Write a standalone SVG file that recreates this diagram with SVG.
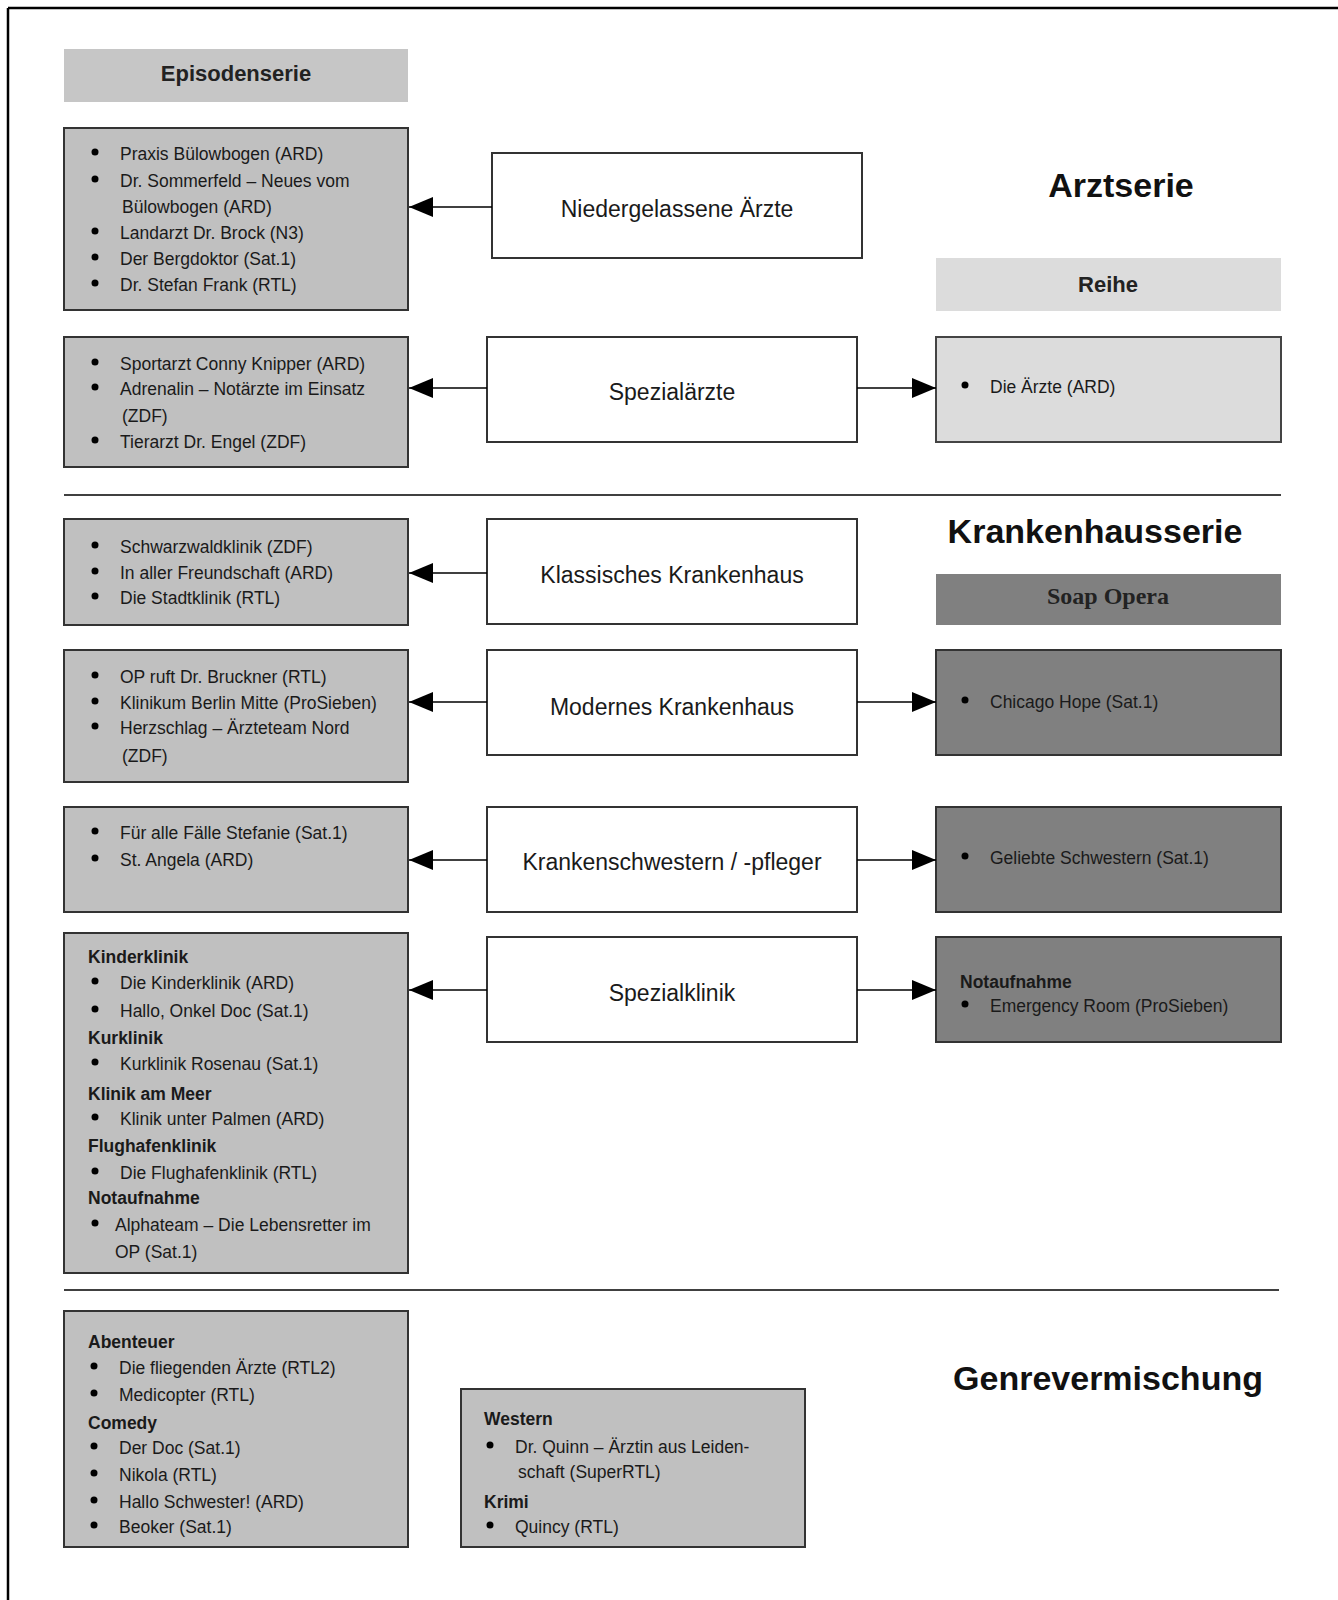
<svg xmlns="http://www.w3.org/2000/svg" width="1338" height="1600" viewBox="0 0 1338 1600">
<defs>
<marker id="ah" markerUnits="userSpaceOnUse" markerWidth="24" markerHeight="20" refX="24" refY="10" orient="auto">
<path d="M0,0 L24,10 L0,20 z" fill="#000"/>
</marker>
<style>
.lbox{fill:#c0c0c0;stroke:#333;stroke-width:2}
.hdr{fill:#c6c6c6}
.cbox{fill:#fff;stroke:#333;stroke-width:2}
.rlight{fill:#dcdcdc;stroke:#444;stroke-width:2}
.rdark{fill:#808080;stroke:#333;stroke-width:2}
.t{font-family:"Liberation Sans",Arial,sans-serif;font-size:17.5px;fill:#1a1a1a}
.tb{font-family:"Liberation Sans",Arial,sans-serif;font-size:17.5px;font-weight:bold;fill:#1a1a1a}
.c{font-family:"Liberation Sans",Arial,sans-serif;font-size:23px;fill:#1a1a1a;text-anchor:middle}
.h{font-family:"Liberation Sans",Arial,sans-serif;font-size:22px;font-weight:bold;fill:#222;text-anchor:middle}
.big{font-family:"Liberation Sans",Arial,sans-serif;font-size:34px;font-weight:bold;fill:#111;text-anchor:middle}
.soap{font-family:"Liberation Serif","Times New Roman",serif;font-size:24px;font-weight:bold;fill:#222;text-anchor:middle}
.b{fill:#000}
.conn{stroke:#000;stroke-width:1.6;fill:none;marker-end:url(#ah)}
.sep{stroke:#000;stroke-width:1.6}
</style>
</defs>
<rect x="0" y="0" width="1338" height="1600" fill="#fff"/>
<g id="border">
<line x1="8" y1="8" x2="1338" y2="8" stroke="#000" stroke-width="2.5"/>
<line x1="8" y1="8" x2="8" y2="1600" stroke="#000" stroke-width="2.5"/>
</g>

<g id="titles">
<text class="big" x="1121" y="197">Arztserie</text>
<text class="big" x="1095" y="543">Krankenhausserie</text>
<text class="big" x="1108" y="1390">Genrevermischung</text>
</g>

<g id="separators">
<line class="sep" x1="64" y1="495" x2="1281" y2="495"/>
<line class="sep" x1="64" y1="1290" x2="1279" y2="1290"/>
</g>

<g id="episodenserie-header">
<rect class="hdr" x="64" y="49" width="344" height="53"/>
<text class="h" x="236" y="81">Episodenserie</text>
</g>

<g id="reihe-header">
<rect x="936" y="258" width="345" height="53" fill="#dcdcdc"/>
<text class="h" x="1108" y="292">Reihe</text>
</g>

<g id="soap-header">
<rect x="936" y="574" width="345" height="51" fill="#808080"/>
<text class="soap" x="1108" y="604">Soap Opera</text>
</g>

<g id="list-niedergelassen">
<rect class="lbox" x="64" y="128" width="344" height="182"/>
<circle class="b" cx="95" cy="152" r="3.5"/><text class="t" x="120" y="160">Praxis Bülowbogen (ARD)</text>
<circle class="b" cx="95" cy="179" r="3.5"/><text class="t" x="120" y="187">Dr. Sommerfeld – Neues vom</text>
<text class="t" x="122" y="213">Bülowbogen (ARD)</text>
<circle class="b" cx="95" cy="231" r="3.5"/><text class="t" x="120" y="239">Landarzt Dr. Brock (N3)</text>
<circle class="b" cx="95" cy="257" r="3.5"/><text class="t" x="120" y="265">Der Bergdoktor (Sat.1)</text>
<circle class="b" cx="95" cy="283" r="3.5"/><text class="t" x="120" y="291">Dr. Stefan Frank (RTL)</text>
</g>

<g id="list-spezialaerzte">
<rect class="lbox" x="64" y="337" width="344" height="130"/>
<circle class="b" cx="95" cy="362" r="3.5"/><text class="t" x="120" y="370">Sportarzt Conny Knipper (ARD)</text>
<circle class="b" cx="95" cy="387" r="3.5"/><text class="t" x="120" y="395">Adrenalin – Notärzte im Einsatz</text>
<text class="t" x="122" y="422">(ZDF)</text>
<circle class="b" cx="95" cy="440" r="3.5"/><text class="t" x="120" y="448">Tierarzt Dr. Engel (ZDF)</text>
</g>

<g id="node-niedergelassene">
<rect class="cbox" x="492" y="153" width="370" height="105"/>
<text class="c" x="677" y="217">Niedergelassene Ärzte</text>
</g>

<g id="node-spezialaerzte">
<rect class="cbox" x="487" y="337" width="370" height="105"/>
<text class="c" x="672" y="400">Spezialärzte</text>
</g>

<g id="reihe-list">
<rect class="rlight" x="936" y="337" width="345" height="105"/>
<circle class="b" cx="965" cy="385" r="3.5"/><text class="t" x="990" y="393">Die Ärzte (ARD)</text>
</g>

<g id="list-klassisch">
<rect class="lbox" x="64" y="519" width="344" height="106"/>
<circle class="b" cx="95" cy="545" r="3.5"/><text class="t" x="120" y="553">Schwarzwaldklinik (ZDF)</text>
<circle class="b" cx="95" cy="571" r="3.5"/><text class="t" x="120" y="579">In aller Freundschaft (ARD)</text>
<circle class="b" cx="95" cy="596" r="3.5"/><text class="t" x="120" y="604">Die Stadtklinik (RTL)</text>
</g>

<g id="node-klassisch">
<rect class="cbox" x="487" y="519" width="370" height="105"/>
<text class="c" x="672" y="583">Klassisches Krankenhaus</text>
</g>

<g id="list-modern">
<rect class="lbox" x="64" y="650" width="344" height="132"/>
<circle class="b" cx="95" cy="675" r="3.5"/><text class="t" x="120" y="683">OP ruft Dr. Bruckner (RTL)</text>
<circle class="b" cx="95" cy="701" r="3.5"/><text class="t" x="120" y="709">Klinikum Berlin Mitte (ProSieben)</text>
<circle class="b" cx="95" cy="726" r="3.5"/><text class="t" x="120" y="734">Herzschlag – Ärzteteam Nord</text>
<text class="t" x="122" y="762">(ZDF)</text>
</g>

<g id="node-modern">
<rect class="cbox" x="487" y="650" width="370" height="105"/>
<text class="c" x="672" y="715">Modernes Krankenhaus</text>
</g>

<g id="soap-modern">
<rect class="rdark" x="936" y="650" width="345" height="105"/>
<circle class="b" cx="965" cy="700" r="3.5"/><text class="t" x="990" y="708">Chicago Hope (Sat.1)</text>
</g>

<g id="list-schwestern">
<rect class="lbox" x="64" y="807" width="344" height="105"/>
<circle class="b" cx="95" cy="831" r="3.5"/><text class="t" x="120" y="839">Für alle Fälle Stefanie (Sat.1)</text>
<circle class="b" cx="95" cy="858" r="3.5"/><text class="t" x="120" y="866">St. Angela (ARD)</text>
</g>

<g id="node-schwestern">
<rect class="cbox" x="487" y="807" width="370" height="105"/>
<text class="c" x="672" y="870">Krankenschwestern / -pfleger</text>
</g>

<g id="soap-schwestern">
<rect class="rdark" x="936" y="807" width="345" height="105"/>
<circle class="b" cx="965" cy="856" r="3.5"/><text class="t" x="990" y="864">Geliebte Schwestern (Sat.1)</text>
</g>

<g id="list-spezialklinik">
<rect class="lbox" x="64" y="933" width="344" height="340"/>
<text class="tb" x="88" y="963">Kinderklinik</text>
<circle class="b" cx="95" cy="981" r="3.5"/><text class="t" x="120" y="989">Die Kinderklinik (ARD)</text>
<circle class="b" cx="95" cy="1009" r="3.5"/><text class="t" x="120" y="1017">Hallo, Onkel Doc (Sat.1)</text>
<text class="tb" x="88" y="1044">Kurklinik</text>
<circle class="b" cx="95" cy="1062" r="3.5"/><text class="t" x="120" y="1070">Kurklinik Rosenau (Sat.1)</text>
<text class="tb" x="88" y="1100">Klinik am Meer</text>
<circle class="b" cx="95" cy="1117" r="3.5"/><text class="t" x="120" y="1125">Klinik unter Palmen (ARD)</text>
<text class="tb" x="88" y="1152">Flughafenklinik</text>
<circle class="b" cx="95" cy="1171" r="3.5"/><text class="t" x="120" y="1179">Die Flughafenklinik (RTL)</text>
<text class="tb" x="88" y="1204">Notaufnahme</text>
<circle class="b" cx="95" cy="1223" r="3.5"/><text class="t" x="115" y="1231">Alphateam – Die Lebensretter im</text>
<text class="t" x="115" y="1258">OP (Sat.1)</text>
</g>

<g id="node-spezialklinik">
<rect class="cbox" x="487" y="937" width="370" height="105"/>
<text class="c" x="672" y="1001">Spezialklinik</text>
</g>

<g id="soap-spezialklinik">
<rect class="rdark" x="936" y="937" width="345" height="105"/>
<text class="tb" x="960" y="988">Notaufnahme</text>
<circle class="b" cx="965" cy="1004" r="3.5"/><text class="t" x="990" y="1012">Emergency Room (ProSieben)</text>
</g>

<g id="genre-left">
<rect class="lbox" x="64" y="1311" width="344" height="236"/>
<text class="tb" x="88" y="1348">Abenteuer</text>
<circle class="b" cx="94" cy="1366" r="3.5"/><text class="t" x="119" y="1374">Die fliegenden Ärzte (RTL2)</text>
<circle class="b" cx="94" cy="1393" r="3.5"/><text class="t" x="119" y="1401">Medicopter (RTL)</text>
<text class="tb" x="88" y="1429">Comedy</text>
<circle class="b" cx="94" cy="1446" r="3.5"/><text class="t" x="119" y="1454">Der Doc (Sat.1)</text>
<circle class="b" cx="94" cy="1473" r="3.5"/><text class="t" x="119" y="1481">Nikola (RTL)</text>
<circle class="b" cx="94" cy="1500" r="3.5"/><text class="t" x="119" y="1508">Hallo Schwester! (ARD)</text>
<circle class="b" cx="94" cy="1525" r="3.5"/><text class="t" x="119" y="1533">Beoker (Sat.1)</text>
</g>

<g id="genre-right">
<rect class="lbox" x="461" y="1389" width="344" height="158"/>
<text class="tb" x="484" y="1425">Western</text>
<circle class="b" cx="490" cy="1445" r="3.5"/><text class="t" x="515" y="1453">Dr. Quinn – Ärztin aus Leiden-</text>
<text class="t" x="518" y="1478">schaft (SuperRTL)</text>
<text class="tb" x="484" y="1508">Krimi</text>
<circle class="b" cx="490" cy="1525" r="3.5"/><text class="t" x="515" y="1533">Quincy (RTL)</text>
</g>

<g id="connectors">
<line class="conn" x1="492" y1="207" x2="409" y2="207"/>
<line class="conn" x1="487" y1="388" x2="409" y2="388"/>
<line class="conn" x1="857" y1="388" x2="936" y2="388"/>
<line class="conn" x1="487" y1="573" x2="409" y2="573"/>
<line class="conn" x1="487" y1="702" x2="409" y2="702"/>
<line class="conn" x1="857" y1="702" x2="936" y2="702"/>
<line class="conn" x1="487" y1="860" x2="409" y2="860"/>
<line class="conn" x1="857" y1="860" x2="936" y2="860"/>
<line class="conn" x1="487" y1="990" x2="409" y2="990"/>
<line class="conn" x1="857" y1="990" x2="936" y2="990"/>
</g>
</svg>
